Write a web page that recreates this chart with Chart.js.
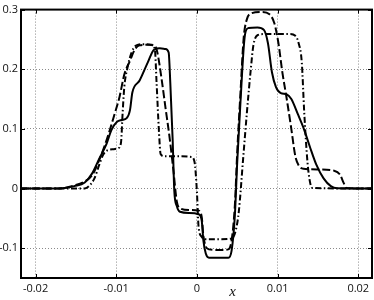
<!DOCTYPE html>
<html>
<head>
<meta charset="utf-8">
<script src="https://cdn.jsdelivr.net/npm/chart.js@4.4.1/dist/chart.umd.min.js"></script>
<style>
html,body{margin:0;padding:0;background:#fff;}
#wrap{width:374px;height:300px;position:relative;}
</style>
</head>
<body>
<div id="wrap"><canvas id="c" width="374" height="300"></canvas></div>
<script>
// ---- data ----
const solidX = [-0.0218,-0.0176,-0.0164,-0.0152,-0.0139,-0.0130,-0.0121,-0.0112,-0.0106,-0.0099,-0.0093,-0.0087,-0.0083,-0.0080,-0.0071,-0.0061,-0.0053,-0.0046,-0.0039,-0.0035,-0.0033,-0.0030,-0.0028,-0.0025,-0.0021,-0.0009,0.0002,0.0006,0.0008,0.0011,0.0015,0.0028,0.0039,0.0043,0.0047,0.0050,0.0054,0.0058,0.0060,0.0064,0.0075,0.0083,0.0088,0.0093,0.0098,0.0104,0.0111,0.0117,0.0125,0.0132,0.0140,0.0148,0.0157,0.0166,0.0174,0.0217];
const solidY = [0,0,0.001,0.004,0.010,0.025,0.05,0.075,0.098,0.112,0.115,0.118,0.131,0.161,0.181,0.211,0.233,0.235,0.234,0.228,0.178,0.08,-0.004,-0.029,-0.039,-0.041,-0.043,-0.054,-0.087,-0.109,-0.116,-0.116,-0.116,-0.104,-0.046,0.045,0.145,0.236,0.261,0.269,0.270,0.266,0.244,0.195,0.170,0.160,0.158,0.150,0.125,0.102,0.070,0.040,0.017,0.004,0.0005,0];

const dashedX = [-0.0218,-0.0176,-0.0164,-0.0152,-0.0139,-0.0130,-0.0121,-0.0111,-0.0102,-0.0096,-0.0090,-0.0083,-0.0077,-0.0071,-0.0059,-0.0052,-0.0049,-0.0044,-0.0039,-0.0034,-0.0029,-0.0025,-0.0021,-0.0009,0.0002,0.0006,0.0008,0.0011,0.0015,0.0028,0.0039,0.0043,0.0047,0.0050,0.0054,0.0058,0.0062,0.0068,0.0080,0.0090,0.0096,0.0101,0.0106,0.0111,0.0117,0.0122,0.0126,0.0132,0.0152,0.0170,0.0177,0.0182,0.0185,0.0217];
const dashedY = [0,0,0.001,0.005,0.012,0.022,0.048,0.085,0.125,0.153,0.191,0.214,0.233,0.240,0.241,0.239,0.228,0.186,0.136,0.087,0.029,-0.021,-0.033,-0.036,-0.037,-0.048,-0.079,-0.097,-0.102,-0.103,-0.102,-0.087,-0.029,0.062,0.161,0.253,0.284,0.294,0.296,0.292,0.277,0.244,0.194,0.153,0.100,0.054,0.039,0.033,0.032,0.030,0.024,0.009,0.001,0];

const dashDotX = [-0.0218,-0.0139,-0.0133,-0.0127,-0.0121,-0.0116,-0.0111,-0.0103,-0.0097,-0.0094,-0.0092,-0.0090,-0.0086,-0.0081,-0.0075,-0.0065,-0.0056,-0.0052,-0.0050,-0.0047,-0.0045,-0.0040,-0.0021,-0.0007,-0.0003,0.0000,0.0002,0.0006,0.0011,0.0028,0.0043,0.0048,0.0052,0.0057,0.0062,0.0067,0.0070,0.0075,0.0084,0.0115,0.0122,0.0126,0.0130,0.0133,0.0137,0.0140,0.0143,0.0217];
const dashDotY = [0,0,0.005,0.017,0.040,0.057,0.064,0.066,0.068,0.078,0.128,0.170,0.203,0.228,0.240,0.242,0.241,0.232,0.178,0.095,0.058,0.054,0.054,0.053,0.045,-0.005,-0.063,-0.081,-0.085,-0.085,-0.084,-0.071,-0.038,0.045,0.128,0.203,0.240,0.257,0.259,0.259,0.256,0.244,0.211,0.128,0.045,0.012,0.001,0];

const xTicks = [-0.02,-0.01,0,0.01,0.02];
const xTickLabels = ['-0.02','-0.01','0','0.01','0.02'];
const yTicks = [-0.1,0,0.1,0.2,0.3];
const yTickLabels = ['-0.1','0','0.1','0.2','0.3'];
const xRange = [-0.0218,0.0217];
const yRange = [-0.15,0.3];
const xTitle = 'x';

function pts(xs, ys){ return xs.map((x,i)=>({x:x, y:ys[i]})); }

const frame = {
  id:'frame',
  afterDraw(chart){
    const {ctx, chartArea:a, scales} = chart;
    ctx.save();
    ctx.strokeStyle = '#000';
    ctx.lineWidth = 1;
    xTicks.forEach(v=>{
      const px = Math.round(scales.x.getPixelForValue(v))+0.5;
      ctx.beginPath();
      ctx.moveTo(px, a.bottom); ctx.lineTo(px, a.bottom-4);
      ctx.moveTo(px, a.top); ctx.lineTo(px, a.top+4);
      ctx.stroke();
    });
    yTicks.forEach(v=>{
      const py = Math.round(scales.y.getPixelForValue(v))+0.5;
      ctx.beginPath();
      ctx.moveTo(a.left, py); ctx.lineTo(a.left+4, py);
      ctx.moveTo(a.right, py); ctx.lineTo(a.right-4, py);
      ctx.stroke();
    });
    ctx.lineWidth = 2;
    ctx.strokeRect(a.left, a.top, a.right-a.left, a.bottom-a.top);
    ctx.fillStyle = '#111';
    ctx.font = 'italic 15px "Liberation Serif", "DejaVu Serif", serif';
    ctx.textAlign = 'center';
    ctx.textBaseline = 'middle';
    ctx.fillText(xTitle, a.left + (a.right-a.left)*0.603, 292);
    ctx.restore();
  }
};

const common = {borderColor:'#000', borderWidth:2, pointRadius:0, fill:false, cubicInterpolationMode:'monotone'};

new Chart(document.getElementById('c'), {
  type:'line',
  data:{
    datasets:[
      Object.assign({label:'solid', data:pts(solidX,solidY)}, common),
      Object.assign({label:'dashed', data:pts(dashedX,dashedY), borderDash:[8,3]}, common),
      Object.assign({label:'dashdot', data:pts(dashDotX,dashDotY), borderDash:[6,2.5,1.5,2.5]}, common)
    ]
  },
  options:{
    responsive:false,
    animation:false,
    events:[],
    layout:{padding:{top:6,right:2,left:0,bottom:0}},
    plugins:{legend:{display:false}, tooltip:{enabled:false}},
    scales:{
      x:{
        type:'linear', min:xRange[0], max:xRange[1],
        afterBuildTicks(s){ s.ticks = xTicks.map(v=>({value:v})); },
        afterFit(s){ s.height = 22; },
        grid:{color:'#8a8a8a', lineWidth:1, drawTicks:false},
        border:{display:false, dash:[1,2]},
        ticks:{padding:4, color:'#111', font:{family:'"Open Sans"', size:11},
          maxRotation:0, autoSkip:false,
          callback(v){ const i = xTicks.findIndex(t=>Math.abs(t-v)<1e-9); return i>=0 ? xTickLabels[i] : ''; }}
      },
      y:{
        type:'linear', min:yRange[0], max:yRange[1],
        afterBuildTicks(s){ s.ticks = yTicks.map(v=>({value:v})); },
        afterFit(s){ s.width = 21; },
        grid:{color:'#8a8a8a', lineWidth:1, drawTicks:false},
        border:{display:false, dash:[1,2]},
        ticks:{padding:3, color:'#111', font:{family:'"Open Sans"', size:11}, autoSkip:false,
          callback(v){ const i = yTicks.findIndex(t=>Math.abs(t-v)<1e-9); return i>=0 ? yTickLabels[i] : ''; }}
      }
    }
  },
  plugins:[frame]
});
</script>
</body>
</html>
